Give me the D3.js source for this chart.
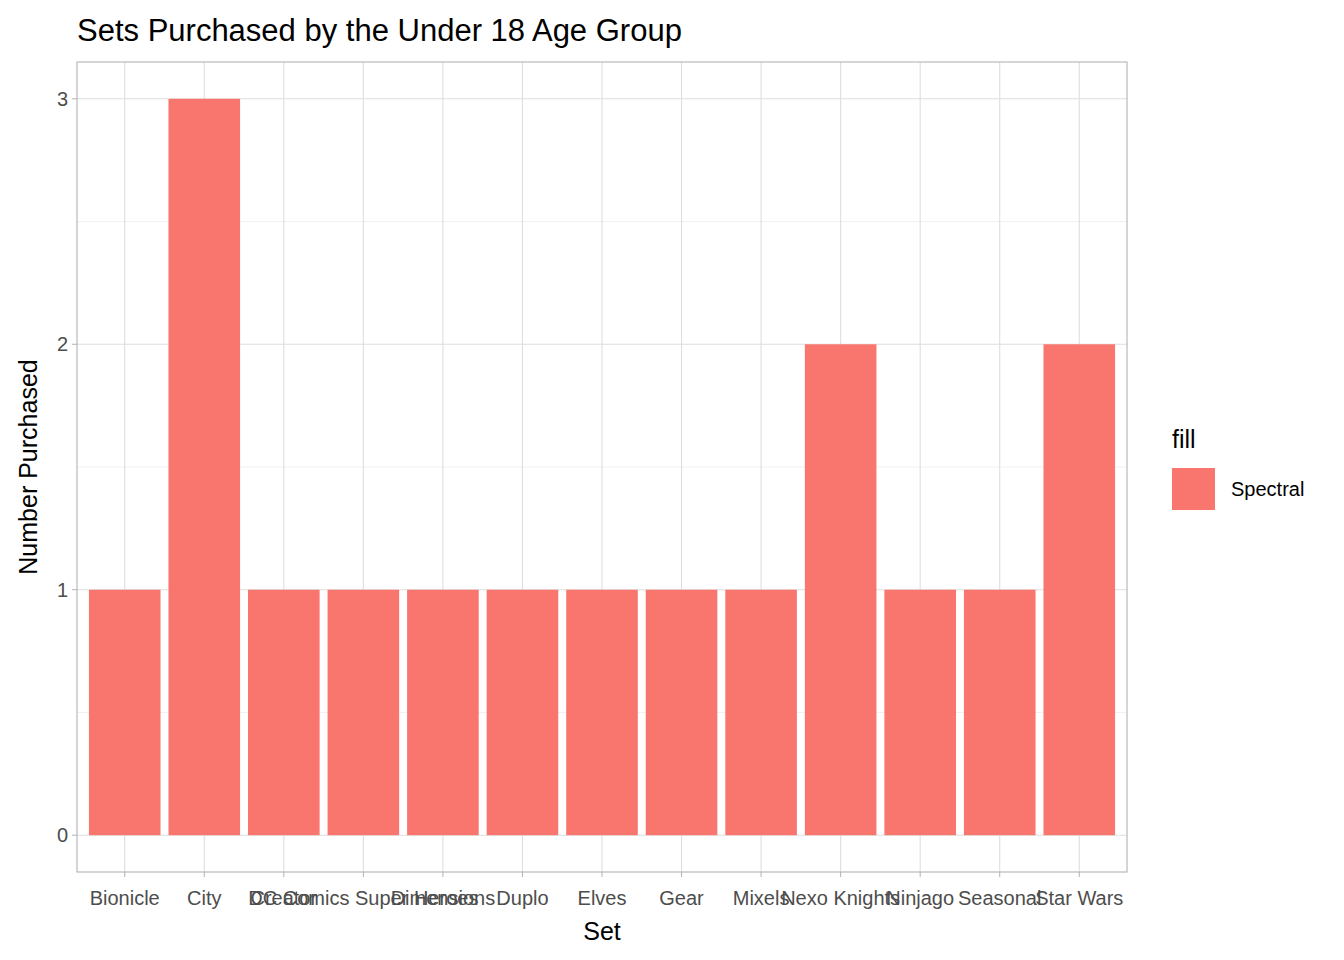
<!DOCTYPE html>
<html>
  <head>
    <style>
     body{ margin:0; background:#fff; }
     text{ font-family: "Liberation Sans", Arial, sans-serif; }
    </style>
    <script src="https://d3js.org/d3.v7.min.js"></script>
  </head>
  <body>
    <script>
    const sets = ["Bionicle","City","Creator","DC Comics Super Heroes","Dimensions","Duplo","Elves","Gear","Mixels","Nexo Knights","Ninjago","Seasonal","Star Wars"];
    const purchased = [1,3,1,1,1,1,1,1,1,2,1,1,2];
    const yTicks = [0,1,2,3];
    const yMinor = [0.5,1.5,2.5];

    const w = 1344, h = 960;
    const pLeft = 77, pRight = 1127, pTop = 62, pBottom = 872;

    const svg = d3.select("body").append("svg").attr("width", w).attr("height", h);

    // ggplot discrete: positions 1..13, limits 0.4..13.6
    const xc = d3.scaleLinear().domain([0.4, 13.6]).range([pLeft, pRight]);
    const y = d3.scaleLinear().domain([-0.15, 3.15]).range([pBottom, pTop]);

    const g = svg.append("g");
    g.selectAll(".ymin").data(yMinor).enter().append("line")
      .attr("x1", pLeft).attr("x2", pRight).attr("y1", d => y(d)).attr("y2", d => y(d))
      .attr("stroke", "#ebebeb").attr("stroke-width", 0.7);
    g.selectAll(".ymaj").data(yTicks).enter().append("line")
      .attr("x1", pLeft).attr("x2", pRight).attr("y1", d => y(d)).attr("y2", d => y(d))
      .attr("stroke", "#dedede").attr("stroke-width", 1.1);
    g.selectAll(".xmaj").data(sets).enter().append("line")
      .attr("x1", (d, i) => xc(i + 1)).attr("x2", (d, i) => xc(i + 1)).attr("y1", pTop).attr("y2", pBottom)
      .attr("stroke", "#dedede").attr("stroke-width", 1.1);

    g.selectAll("rect.bar").data(purchased).enter().append("rect")
      .attr("x", (d, i) => xc(i + 1 - 0.45))
      .attr("width", xc(0.9) - xc(0))
      .attr("y", d => y(d))
      .attr("height", d => y(0) - y(d))
      .attr("fill", "#F8766D");

    svg.append("rect").attr("x", pLeft).attr("y", pTop).attr("width", pRight - pLeft).attr("height", pBottom - pTop)
      .attr("fill", "none").attr("stroke", "#b3b3b3").attr("stroke-width", 1.1);

    const yAxis = svg.append("g");
    yTicks.forEach(t => {
      yAxis.append("line").attr("x1", pLeft - 5).attr("x2", pLeft).attr("y1", y(t)).attr("y2", y(t)).attr("stroke", "#b3b3b3");
      yAxis.append("text").attr("x", pLeft - 9).attr("y", y(t)).attr("dy", "0.35em").attr("text-anchor", "end")
        .attr("font-size", 20).attr("fill", "#4d4d4d").text(t);
    });
    const xAxis = svg.append("g");
    sets.forEach((s, i) => {
      const cx = xc(i + 1);
      xAxis.append("line").attr("x1", cx).attr("x2", cx).attr("y1", pBottom).attr("y2", pBottom + 5).attr("stroke", "#b3b3b3");
      xAxis.append("text").attr("x", cx).attr("y", pBottom + 33).attr("text-anchor", "middle")
        .attr("font-size", 20).attr("fill", "#4d4d4d").text(s);
    });

    svg.append("text").attr("x", (pLeft + pRight) / 2).attr("y", 940).attr("text-anchor", "middle")
      .attr("font-size", 25).attr("fill", "#000").text("Set");
    svg.append("text").attr("transform", `translate(37,${(pTop + pBottom) / 2}) rotate(-90)`).attr("text-anchor", "middle")
      .attr("font-size", 25).attr("fill", "#000").text("Number Purchased");
    svg.append("text").attr("x", 77).attr("y", 41).attr("font-size", 31).attr("fill", "#000")
      .text("Sets Purchased by the Under 18 Age Group");

    svg.append("text").attr("x", 1172).attr("y", 448).attr("font-size", 25).text("fill");
    svg.append("rect").attr("x", 1172).attr("y", 468).attr("width", 43).attr("height", 42).attr("fill", "#F8766D");
    svg.append("text").attr("x", 1231).attr("y", 489).attr("dy", "0.35em").attr("font-size", 20).text("Spectral");
    </script>
  </body>
</html>
